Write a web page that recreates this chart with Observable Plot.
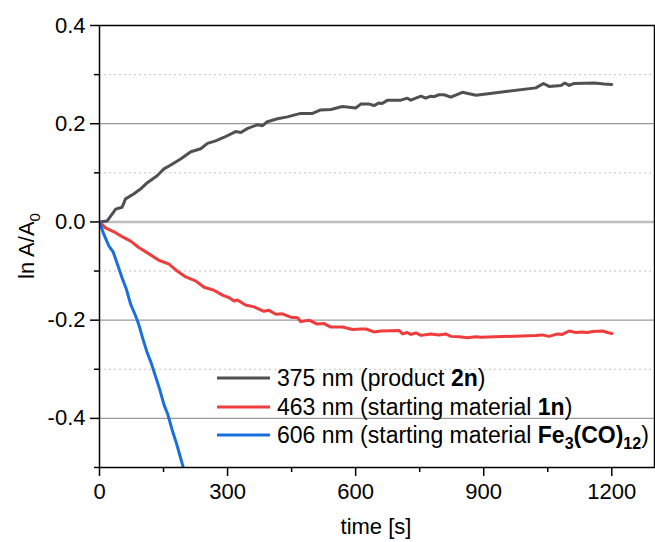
<!DOCTYPE html>
<html>
<head>
<meta charset="utf-8">
<script src="https://cdn.jsdelivr.net/npm/d3@7"></script>
<script src="https://cdn.jsdelivr.net/npm/@observablehq/plot@0.6"></script>
<style>
  html, body { margin: 0; padding: 0; background: white; }
  #chart { width: 655px; height: 542px; }
</style>
</head>
<body>
<div id="chart"></div>
<script>
// ---- data ----
const time375 = [0,18,38,53,61,80,96,112,135,151,167,190,214,237,253,272,291,319,331,346,370,382,393,417,440,471,499,518,542,569,600,612,632,643,654,662,675,706,721,729,753,764,776,784,795,807,823,850,882,1022,1040,1053,1081,1090,1100,1112,1159,1182,1200];
const value375 = [0,0.002,0.026,0.030,0.047,0.057,0.067,0.080,0.094,0.108,0.116,0.128,0.143,0.149,0.160,0.165,0.172,0.184,0.182,0.190,0.198,0.196,0.204,0.210,0.214,0.221,0.221,0.228,0.229,0.235,0.232,0.240,0.240,0.237,0.242,0.241,0.248,0.248,0.252,0.248,0.256,0.252,0.256,0.255,0.259,0.259,0.254,0.264,0.258,0.273,0.282,0.276,0.278,0.283,0.278,0.282,0.283,0.281,0.280];

const time463 = [0,14,34,53,73,92,116,139,163,182,202,225,245,268,288,303,315,323,342,362,385,397,413,428,448,464,471,491,510,526,542,569,593,612,624,643,659,702,710,721,729,741,753,776,795,811,823,843,862,882,893,1022,1037,1053,1073,1084,1100,1116,1131,1143,1155,1178,1190,1200];
const value463 = [0,-0.012,-0.020,-0.030,-0.039,-0.052,-0.065,-0.078,-0.086,-0.100,-0.112,-0.120,-0.133,-0.139,-0.149,-0.154,-0.161,-0.159,-0.169,-0.173,-0.182,-0.180,-0.188,-0.187,-0.194,-0.195,-0.203,-0.200,-0.208,-0.207,-0.214,-0.214,-0.219,-0.218,-0.218,-0.224,-0.222,-0.221,-0.228,-0.225,-0.229,-0.226,-0.231,-0.228,-0.230,-0.228,-0.233,-0.234,-0.236,-0.234,-0.235,-0.231,-0.230,-0.233,-0.228,-0.229,-0.222,-0.225,-0.224,-0.225,-0.223,-0.222,-0.225,-0.227];

const time606 = [0,10,22,32,42,53,63,73,83,92,102,112,121,131,141,151,160,170,181,190,198];
const value606 = [0,-0.025,-0.049,-0.061,-0.086,-0.114,-0.137,-0.168,-0.188,-0.209,-0.239,-0.267,-0.287,-0.314,-0.341,-0.372,-0.392,-0.423,-0.453,-0.481,-0.505];

const seriesNames = ["375 nm", "463 nm", "606 nm"];
const seriesColors = ["#505050", "#f03c3c", "#1a6fe0"];

const xTicks = [0, 300, 600, 900, 1200];
const xMinorTicks = [150, 450, 750, 1050];
const yTicks = [0.4, 0.2, 0.0, -0.2, -0.4];
const yMinorTicks = [0.3, 0.1, -0.1, -0.3, -0.5];
const yGridMajor = [0.2, -0.2, -0.4];
const yGridZero = [0.0];
const yGridMinor = [0.3, 0.1, -0.1, -0.3];

const toRows = (t, v, s) => t.map((d, i) => ({time: d, value: v[i], series: s}));
const d375 = toRows(time375, value375, seriesNames[0]);
const d463 = toRows(time463, value463, seriesNames[1]);
const d606 = toRows(time606, value606, seriesNames[2]);

const FONT = "'Liberation Sans', Arial, Helvetica, sans-serif";

const chart = Plot.plot({
  width: 655,
  height: 542,
  marginLeft: 99,
  marginRight: 1,
  marginTop: 25,
  marginBottom: 75,
  style: {fontFamily: FONT, fontSize: "22px", background: "white", color: "black"},
  x: {domain: [0, 1300]},
  y: {domain: [-0.5, 0.4]},
  marks: [
    Plot.gridY(yGridMajor, {stroke: "#9a9a9a", strokeOpacity: 1, strokeWidth: 1.2}),
    Plot.gridY(yGridZero, {stroke: "#bdbdbd", strokeOpacity: 1, strokeWidth: 2.5}),
    Plot.gridY(yGridMinor, {stroke: "#c4c4c4", strokeOpacity: 1, strokeWidth: 1, strokeDasharray: "2,3"}),
    Plot.line(d375, {x: "time", y: "value", stroke: seriesColors[0], strokeWidth: 3, clip: true}),
    Plot.line(d463, {x: "time", y: "value", stroke: seriesColors[1], strokeWidth: 3, clip: true}),
    Plot.line(d606, {x: "time", y: "value", stroke: seriesColors[2], strokeWidth: 3, clip: true}),
    Plot.frame({stroke: "black", strokeWidth: 1.5}),
    Plot.axisX(xTicks, {tickSize: 9, tickPadding: 7, strokeWidth: 1.5, tickFormat: d => String(d), label: null, fontSize: 22}),
    Plot.axisX(xMinorTicks, {tickSize: 5, strokeWidth: 1.5, tickFormat: () => "", label: null}),
    Plot.axisY(yTicks, {tickSize: 9, tickPadding: 5, strokeWidth: 1.5, tickFormat: d => d.toFixed(1), label: null, fontSize: 22}),
    Plot.axisY(yMinorTicks, {tickSize: 5, strokeWidth: 1.5, tickFormat: () => "", label: null})
  ]
});

document.getElementById("chart").appendChild(chart);

const svg = d3.select(chart);

// axis titles
svg.append("text")
  .attr("x", 376).attr("y", 534)
  .attr("text-anchor", "middle")
  .style("font-family", FONT).style("font-size", "22px").attr("fill", "black")
  .text("time [s]");

const yl = svg.append("text")
  .attr("transform", "translate(34,246) rotate(-90)")
  .attr("text-anchor", "middle")
  .style("font-family", FONT).style("font-size", "22px").attr("fill", "black");
yl.append("tspan").text("ln A/A");
yl.append("tspan").attr("dy", 6).style("font-size", "15px").text("0");

// legend
const legendRows = [
  {y: 378, color: seriesColors[0], parts: [["375 nm (product ", "n"], ["2n", "b"], [")", "n"]]},
  {y: 407, color: seriesColors[1], parts: [["463 nm (starting material ", "n"], ["1n", "b"], [")", "n"]]},
  {y: 435, color: seriesColors[2], parts: [["606 nm (starting material ", "n"], ["Fe", "b"], ["3", "bs"], ["(CO)", "b"], ["12", "bs"], [")", "n"]]}
];
const lg = svg.append("g").attr("text-anchor", "start");
legendRows.forEach(r => {
  lg.append("line")
    .attr("x1", 217).attr("x2", 270).attr("y1", r.y).attr("y2", r.y)
    .attr("stroke", r.color).attr("stroke-width", 3);
  const t = lg.append("text")
    .attr("x", 277).attr("y", r.y + 8)
    .attr("text-anchor", "start")
    .style("font-family", FONT).style("font-size", "23px").attr("fill", "black");
  let shifted = false;
  r.parts.forEach(([s, k]) => {
    const sp = t.append("tspan").text(s);
    if (k[0] === "b") sp.style("font-weight", "bold");
    if (k === "bs") {
      sp.style("font-size", "16px");
      if (!shifted) { sp.attr("dy", 6); shifted = true; }
    } else if (shifted) {
      sp.attr("dy", -6); shifted = false;
    }
  });
});
</script>
</body>
</html>
